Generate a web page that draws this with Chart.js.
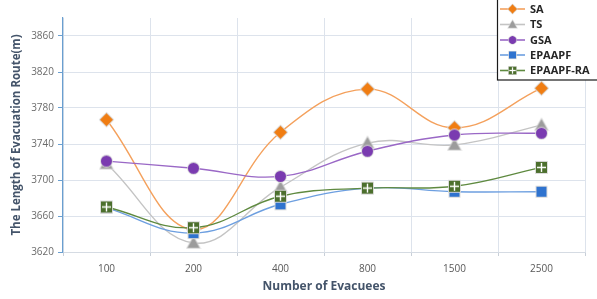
<!DOCTYPE html>
<html><head><meta charset="utf-8">
<script src="https://cdn.jsdelivr.net/npm/chart.js@4/dist/chart.umd.min.js"></script>
<style>html,body{margin:0;padding:0;background:#fff;}#wrap{width:597px;height:299px;position:relative;}</style>
</head><body><div id="wrap"><canvas id="c" width="597" height="299"></canvas></div>
<script>
const categories = ['100','200','400','800','1500','2500'];
const seriesNames = ['SA','TS','GSA','EPAAPF','EPAAPF-RA'];
const SA = [3767, 3645, 3753, 3801, 3758, 3802];
const TS = [3718, 3630, 3692, 3741, 3739, 3761];
const GSA = [3721, 3713, 3704, 3732, 3750, 3752];
const EPAAPF = [3669, 3641, 3673, 3691, 3687, 3687];
const EPAAPF_RA = [3670, 3647, 3682, 3691, 3693, 3714];
const yTicks = [3620, 3660, 3700, 3740, 3780, 3820, 3860];

function makeMarker(shape, fill, size) {
  const pad = 2, s = size + pad * 2;
  const cv = document.createElement('canvas');
  cv.width = s; cv.height = s;
  const g = cv.getContext('2d');
  const c = s / 2, r = size / 2;
  g.beginPath();
  if (shape === 'diamond') { g.moveTo(c, c - r); g.lineTo(c + r, c); g.lineTo(c, c + r); g.lineTo(c - r, c); g.closePath(); }
  else if (shape === 'triangle') { g.moveTo(c, c - r); g.lineTo(c + r, c + r * 0.8); g.lineTo(c - r, c + r * 0.8); g.closePath(); }
  else if (shape === 'circle') { g.arc(c, c, r, 0, Math.PI * 2); }
  else { g.rect(c - r, c - r, size, size); }
  g.fillStyle = fill;
  g.strokeStyle = 'rgba(215,215,215,0.95)';
  g.lineWidth = 1.8;
  g.stroke();
  g.fill();
  if (shape === 'cross') {
    g.strokeStyle = '#ffffff'; g.lineWidth = 1.4;
    g.beginPath(); g.moveTo(c, c - r + 1); g.lineTo(c, c + r - 1); g.moveTo(c - r + 1, c); g.lineTo(c + r - 1, c); g.stroke();
  }
  return cv;
}

const styles = [
  {line:'#f4a15d', marker: makeMarker('diamond', '#f07d12', 13)},
  {line:'#c4c4c4', marker: makeMarker('triangle', '#9c9c9c', 12)},
  {line:'#9a68c6', marker: makeMarker('circle', '#7a3bb0', 11)},
  {line:'#6d9fe0', marker: makeMarker('square', '#2f73cf', 10)},
  {line:'#5f8a40', marker: makeMarker('cross', '#4c6f2d', 11)}
];
const allData = [SA, TS, GSA, EPAAPF, EPAAPF_RA];

const datasets = allData.map((d, i) => ({
  label: seriesNames[i],
  data: d,
  order: 5 - i,
  borderColor: styles[i].line,
  backgroundColor: styles[i].line,
  borderWidth: 1.4,
  tension: 0.4,
  pointStyle: styles[i].marker,
  pointRadius: 6,
  pointHoverRadius: 6,
  fill: false
}));

const legendPlugin = {
  id: 'customLegend',
  afterDraw(chart) {
    const ctx = chart.ctx;
    ctx.save();
    ctx.fillStyle = '#ffffff';
    ctx.fillRect(497, 0, 100, 80);
    ctx.strokeStyle = '#1a1a1a';
    ctx.lineWidth = 1.2;
    ctx.strokeRect(497.5, -1, 101, 81);
    const ys = [9, 24.5, 40, 55, 70.5];
    ctx.font = 'bold 11px "Open Sans", sans-serif';
    ctx.textBaseline = 'middle';
    ctx.textAlign = 'left';
    for (let i = 0; i < 5; i++) {
      const y = ys[i];
      ctx.strokeStyle = styles[i].line;
      ctx.lineWidth = 1.6;
      ctx.beginPath(); ctx.moveTo(500, y); ctx.lineTo(525, y); ctx.stroke();
      const m = styles[i].marker;
      const sc = 0.7;
      ctx.drawImage(m, 512.5 - m.width * sc / 2, y - m.height * sc / 2, m.width * sc, m.height * sc);
      ctx.fillStyle = '#262626';
      ctx.fillText(seriesNames[i], 530, y + 0.5);
    }
    ctx.restore();
  }
};

new Chart(document.getElementById('c'), {
  type: 'line',
  data: { labels: categories, datasets },
  options: {
    responsive: false,
    animation: false,
    events: [],
    layout: { padding: { top: 18, right: 12, left: 0, bottom: 5 } },
    plugins: { legend: { display: false }, tooltip: { enabled: false } },
    scales: {
      x: {
        offset: true,
        grid: { offset: true, color: '#dde3ec', lineWidth: 1, drawTicks: true, tickLength: 4, tickColor: '#c8cfd8' },
        border: { display: true, color: '#d5dbe3' },
        ticks: { color: '#595959', font: { family: '"Open Sans", sans-serif', size: 10 }, padding: 7 },
        title: { display: true, text: 'Number of Evacuees', color: '#44546a', font: { family: '"Open Sans", sans-serif', size: 12, weight: 'bold' }, padding: { top: 0, bottom: 0 } },
        afterFit(s) { s.height = 42; }
      },
      y: {
        min: 3620, max: 3880,
        afterBuildTicks(s) { s.ticks = yTicks.map(v => ({ value: v })); },
        grid: { color: '#dde3ec', lineWidth: 1, drawTicks: true, tickLength: 5, tickColor: '#6a9fd0' },
        border: { display: true, color: '#6a9fd0', width: 1.2 },
        ticks: { color: '#6b6b6b', font: { family: '"Open Sans", sans-serif', size: 10 }, padding: 4, callback: v => String(v) },
        title: { display: true, text: 'The Length of Evacuation Route(m)', color: '#44546a', font: { family: '"Open Sans", sans-serif', size: 11.5, weight: 'bold' }, padding: { top: 10, bottom: 4 } },
        afterFit(s) { s.width = 63; }
      }
    }
  },
  plugins: [legendPlugin]
});
</script>
</body></html>
